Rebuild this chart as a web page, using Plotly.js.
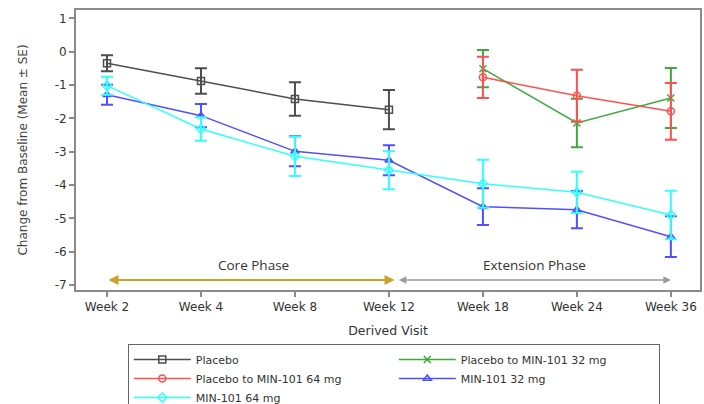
<!DOCTYPE html>
<html><head><meta charset="utf-8">
<script src="https://cdn.plot.ly/plotly-3.0.1.min.js"></script>
<style>html,body{margin:0;padding:0;background:#fff}</style>
</head><body>
<div id="chart" style="width:704px;height:404px"></div>
<script>
const visits = ["Week 2","Week 4","Week 8","Week 12","Week 18","Week 24","Week 36"];
const coreVisits = ["Week 2","Week 4","Week 8","Week 12"];
const extVisits = ["Week 18","Week 24","Week 36"];

const placeboMean = [-0.35, -0.88, -1.42, -1.74];
const placeboSE   = [0.24, 0.38, 0.50, 0.59];

const p32Mean = [-0.51, -2.14, -1.39];
const p32SE   = [0.56, 0.73, 0.90];

const p64Mean = [-0.77, -1.32, -1.79];
const p64SE   = [0.62, 0.78, 0.85];

const m32Mean = [-1.29, -1.92, -2.99, -3.26, -4.65, -4.74, -5.55];
const m32SE   = [0.30, 0.35, 0.45, 0.45, 0.55, 0.56, 0.61];

const m64Mean = [-1.02, -2.32, -3.14, -3.56, -3.96, -4.22, -4.90];
const m64SE   = [0.27, 0.35, 0.59, 0.57, 0.72, 0.62, 0.73];

const yTicks = [1, 0, -1, -2, -3, -4, -5, -6, -7];
const yTickText = ["1","0","-1","-2","-3","-4","-5","-6","-7"];

const phaseLabels = ["Core Phase", "Extension Phase"];
const phaseLabelX = [1.56, 4.55];
const phaseStart = [0, 3.09];
const phaseEnd = [3.06, 6];
const phaseColors = ["#c9a227", "#9a9a9a"];
const phaseLevel = -6.85;
const phaseLabelLevel = -6.4;

const FONT = "DejaVu Sans, Verdana, sans-serif";

function tr(name, x, y, se, color, symbol) {
  return {
    type: "scatter", mode: "lines+markers", name: name, x: x, y: y,
    line: {color: color, width: 1.5},
    marker: {symbol: symbol, size: 7, color: color, line: {color: color, width: 1.5}},
    error_y: {type: "data", array: se, visible: true, color: color, thickness: 2, width: 6}
  };
}

const data = [
  tr("Placebo", coreVisits, placeboMean, placeboSE, "#4d4d4d", "square-open"),
  tr("Placebo to MIN-101 32 mg", extVisits, p32Mean, p32SE, "#3fa83f", "x-thin-open"),
  tr("Placebo to MIN-101 64 mg", extVisits, p64Mean, p64SE, "#ff5050", "circle-open"),
  tr("MIN-101 32 mg", visits, m32Mean, m32SE, "#5050ff", "triangle-up-open"),
  tr("MIN-101 64 mg", visits, m64Mean, m64SE, "#33ffff", "diamond-open")
];

const annotations = [];
for (let i = 0; i < phaseLabels.length; i++) {
  annotations.push({
    x: phaseEnd[i], y: phaseLevel, ax: phaseStart[i], ay: phaseLevel,
    xref: "x", yref: "y", axref: "x", ayref: "y",
    text: "", showarrow: true, arrowhead: 2, arrowside: "end+start",
    arrowsize: 1, arrowwidth: i === 0 ? 2 : 1.5, arrowcolor: phaseColors[i]
  });
  annotations.push({
    x: phaseLabelX[i], y: phaseLabelLevel, xref: "x", yref: "y",
    text: phaseLabels[i], showarrow: false,
    font: {family: "Open Sans, sans-serif", size: 13.5, color: "#333"}
  });
}

const layout = {
  width: 704, height: 404,
  margin: {l: 76, r: 4, t: 10, b: 114, autoexpand: false},
  paper_bgcolor: "#fff", plot_bgcolor: "#fff",
  font: {family: FONT, size: 12, color: "#333"},
  showlegend: true,
  xaxis: {
    type: "category", categoryorder: "array", categoryarray: visits,
    range: [-0.33, 6.31],
    showline: true, mirror: true, linecolor: "#8a8a8a", linewidth: 2,
    ticks: "outside", ticklen: 5, tickcolor: "#8a8a8a", tickwidth: 2,
    showgrid: false, zeroline: false,
    tickfont: {size: 12, color: "#333"},
    title: {text: "Derived Visit", font: {size: 12.5, color: "#333"}, standoff: 13}
  },
  yaxis: {
    range: [-7.15, 1.25],
    tickvals: yTicks, ticktext: yTickText,
    showline: true, mirror: true, linecolor: "#8a8a8a", linewidth: 2,
    ticks: "outside", ticklen: 5, tickcolor: "#8a8a8a", tickwidth: 2,
    showgrid: false, zeroline: false,
    tickfont: {size: 12, color: "#333"},
    title: {text: "Change from Baseline (Mean ± SE)", font: {size: 12, color: "#444"}, standoff: 24}
  },
  legend: {
    orientation: "h", x: 0.083, xanchor: "left", y: -0.193, yanchor: "top",
    bordercolor: "#666", borderwidth: 1, bgcolor: "#fff",
    entrywidth: 193, itemwidth: 57, tracegroupgap: 0,
    font: {size: 11, color: "#333"}
  },
  annotations: annotations
};

Plotly.newPlot("chart", data, layout, {displayModeBar: false, staticPlot: true});
</script>
</body></html>
